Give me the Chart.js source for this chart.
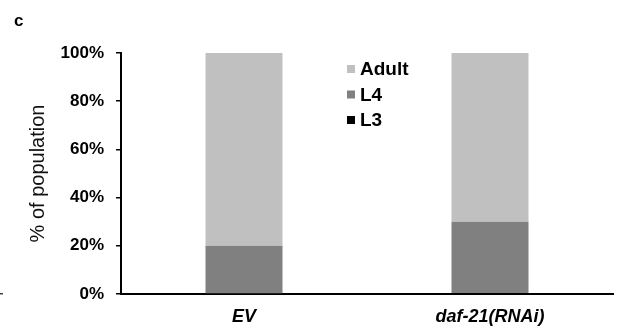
<!DOCTYPE html>
<html>
<head>
<meta charset="utf-8">
<script src="https://cdn.jsdelivr.net/npm/chart.js@4.4.0/dist/chart.umd.min.js"></script>
<style>
  html, body { margin: 0; padding: 0; background: #fff; }
  #wrap { position: relative; width: 619px; height: 331px; }
</style>
</head>
<body>
<div id="wrap"><canvas id="myChart" width="619" height="331"></canvas></div>
<script>
// datos
const categorias = ['EV', 'daf-21(RNAi)'];
const valoresL3 = [0, 0.4];
const valoresL4 = [20, 29.6];
const valoresAdult = [80, 70];
const ticksY = [0, 20, 40, 60, 80, 100];

const fuente = "'Liberation Sans', Arial, sans-serif";

// leyenda dibujada a mano dentro del area (Adult arriba, L3 abajo)
const leyendaManual = {
  id: 'leyendaManual',
  afterDraw(chart) {
    const ctx = chart.ctx;
    const ds = chart.data.datasets.slice().reverse();
    ctx.save();
    ctx.font = 'bold 19px ' + fuente;
    ctx.textBaseline = 'middle';
    ds.forEach((d, i) => {
      const y = 69 + i * 25.5;
      ctx.fillStyle = d.backgroundColor;
      ctx.fillRect(347, y - 4, 8, 8);
      ctx.fillStyle = '#000';
      ctx.fillText(d.label, 360, y + 1);
    });
    // letra del panel
    ctx.font = 'bold 17px ' + fuente;
    ctx.textBaseline = 'alphabetic';
    ctx.fillText('c', 14, 26);
    // rayita del borde izquierdo
    ctx.fillStyle = '#444';
    ctx.fillRect(0, 293, 3, 1.5);
    ctx.restore();
  }
};

const ctx = document.getElementById('myChart');

new Chart(ctx, {
  type: 'bar',
  data: {
    labels: categorias,
    datasets: [
      { label: 'L3', data: valoresL3, backgroundColor: '#000000' },
      { label: 'L4', data: valoresL4, backgroundColor: '#808080' },
      { label: 'Adult', data: valoresAdult, backgroundColor: '#c0c0c0' }
    ]
  },
  options: {
    responsive: false,
    devicePixelRatio: 1,
    animation: false,
    layout: { padding: { top: 53, right: 6, bottom: 0, left: 0 } },
    datasets: { bar: { categoryPercentage: 1, barPercentage: 0.313, borderWidth: 0 } },
    plugins: {
      legend: { display: false },
      tooltip: { enabled: false }
    },
    scales: {
      x: {
        stacked: true,
        afterFit: (s) => { s.height = 37; },
        grid: { drawOnChartArea: false, drawTicks: false },
        border: { color: '#000', width: 2 },
        ticks: {
          color: '#000',
          padding: 12,
          font: { family: fuente, size: 18, weight: 'bold', style: 'italic' }
        }
      },
      y: {
        stacked: true,
        min: 0,
        max: 100,
        afterFit: (s) => { s.width = 121; },
        afterBuildTicks: (s) => { s.ticks = ticksY.map(v => ({ value: v })); },
        grid: { drawOnChartArea: false, drawTicks: true, tickLength: 5, color: '#000', lineWidth: 1.5 },
        border: { color: '#000', width: 2 },
        ticks: {
          color: '#000',
          padding: 12,
          font: { family: fuente, size: 17, weight: 'bold' },
          callback: (v) => v + '%'
        },
        title: {
          display: true,
          text: '% of population',
          color: '#111',
          padding: { top: 26, bottom: 0 },
          font: { family: fuente, size: 20, weight: 'normal' }
        }
      }
    }
  },
  plugins: [leyendaManual]
});
</script>
</body>
</html>
